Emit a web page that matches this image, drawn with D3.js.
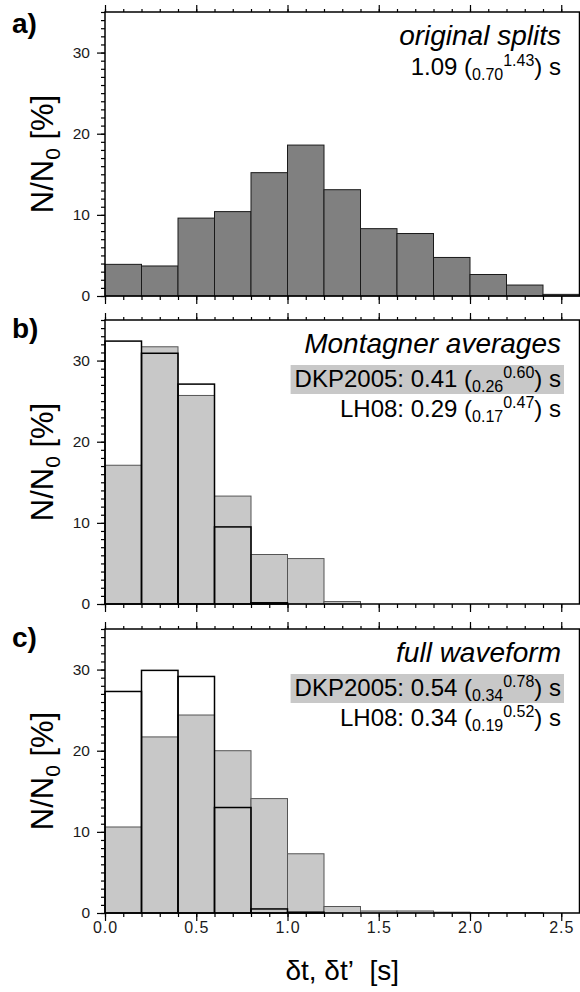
<!DOCTYPE html>
<html>
<head>
<meta charset="utf-8">
<script src="https://cdn.jsdelivr.net/npm/d3@7"></script>
<style>
  body { margin: 0; background: #fff; }
  svg { display: block; font-family: "Liberation Sans", Arial, sans-serif; }
  svg text { font-family: "Liberation Sans", Arial, sans-serif; }
</style>
</head>
<body>
<svg id="chart" width="580" height="992"></svg>
<script>
// histogram bins (start of each 0.2 s bin)
const binStarts = [0.0, 0.2, 0.4, 0.6, 0.8, 1.0, 1.2, 1.4, 1.6, 1.8, 2.0, 2.2, 2.4];
const binWidth = 0.2;

// a) original splits
const originalSplits = [3.9, 3.7, 9.6, 10.4, 15.2, 18.6, 13.1, 8.3, 7.7, 4.75, 2.65, 1.35, 0.2];
// b) Montagner averages
const montagnerDKP = [17.1, 31.7, 25.7, 13.3, 6.1, 5.6, 0.3, 0, 0, 0, 0, 0, 0];
const montagnerLH = [32.4, 30.9, 27.1, 9.5, 0.15, 0, 0, 0, 0, 0, 0, 0, 0];
// c) full waveform
const fullDKP = [10.6, 21.7, 24.4, 20.0, 14.1, 7.3, 0.8, 0.25, 0.25, 0.1, 0.05, 0.05, 0];
const fullLH = [27.3, 29.9, 29.15, 13.0, 0.5, 0.1, 0, 0, 0, 0, 0, 0, 0];

const xTickLabels = [0.0, 0.5, 1.0, 1.5, 2.0, 2.5];
const yTickLabels = [0, 10, 20, 30];
const panelLetters = ["a)", "b)", "c)"];
const panelTitles = ["original splits", "Montagner averages", "full waveform"];
const panelStats = [
  [{ label: "", mean: "1.09", lo: "0.70", hi: "1.43", boxed: false }],
  [{ label: "DKP2005: ", mean: "0.41", lo: "0.26", hi: "0.60", boxed: true },
   { label: "LH08: ", mean: "0.29", lo: "0.17", hi: "0.47", boxed: false }],
  [{ label: "DKP2005: ", mean: "0.54", lo: "0.34", hi: "0.78", boxed: true },
   { label: "LH08: ", mean: "0.34", lo: "0.19", hi: "0.52", boxed: false }]
];

const panels = [
  { filled: originalSplits, outline: null, fill: "#808080", stroke: "#1a1a1a" },
  { filled: montagnerDKP, outline: montagnerLH, fill: "#c8c8c8", stroke: "#555" },
  { filled: fullDKP, outline: fullLH, fill: "#c8c8c8", stroke: "#555" }
];

const svg = d3.select("#chart");
const panelTops = [12, 320, 629];
const panelH = 284;
const x = d3.scaleLinear().domain([0, 2.6]).range([105, 579.5]);

panels.forEach((p, i) => {
  const top = panelTops[i];
  const y = d3.scaleLinear().domain([0, 35]).range([top + panelH, top]);
  const g = svg.append("g");

  const bins = binStarts.map((b, j) => ({ x0: b, x1: b + binWidth, v: p.filled[j] }));
  g.append("g")
    .selectAll("rect")
    .data(bins.filter((d) => d.v > 0))
    .join("rect")
    .attr("x", (d) => x(d.x0))
    .attr("width", (d) => x(d.x1) - x(d.x0))
    .attr("y", (d) => y(d.v))
    .attr("height", (d) => y(0) - y(d.v))
    .attr("fill", p.fill)
    .attr("stroke", p.stroke)
    .attr("stroke-width", 1);

  if (p.outline) {
    const ob = binStarts.map((b, j) => ({ x0: b, x1: b + binWidth, v: p.outline[j] }));
    g.append("g")
      .selectAll("rect")
      .data(ob.filter((d) => d.v > 0))
      .join("rect")
      .attr("x", (d) => x(d.x0))
      .attr("width", (d) => x(d.x1) - x(d.x0))
      .attr("y", (d) => y(d.v))
      .attr("height", (d) => y(0) - y(d.v))
      .attr("fill", "none")
      .attr("stroke", "#000")
      .attr("stroke-width", 1.5);
  }

  // axes: minor + major ticks, outward
  const minorX = d3.range(0, 26).map((k) => k / 10);
  const axisStyle = (sel) => {
    sel.attr("font-family", null);
    sel.select(".domain").remove();
    sel.selectAll("line").attr("stroke", "#000").attr("stroke-width", 1.2);
    sel.selectAll("text").attr("fill", "#1a1a1a").style("font-size", "15.5px");
  };
  g.append("g").attr("transform", `translate(0,${top})`)
    .call(d3.axisTop(x).tickValues(minorX).tickSize(3).tickFormat(""))
    .call(axisStyle);
  g.append("g").attr("transform", `translate(0,${top})`)
    .call(d3.axisTop(x).tickValues(xTickLabels).tickSize(7).tickFormat(""))
    .call(axisStyle);
  g.append("g").attr("transform", `translate(0,${top + panelH})`)
    .call(d3.axisBottom(x).tickValues(minorX).tickSize(4).tickFormat(""))
    .call(axisStyle);
  g.append("g").attr("transform", `translate(0,${top + panelH})`)
    .call(d3.axisBottom(x).tickValues(xTickLabels).tickSize(8)
      .tickPadding(1)
      .tickFormat(i === 2 ? d3.format(".1f") : ""))
    .call(axisStyle)
    .call((a) => a.selectAll("text").style("font-size", "16px").style("letter-spacing", "1px"));

  g.append("g").attr("transform", `translate(105,0)`)
    .call(d3.axisLeft(y).tickValues(d3.range(0, 36)).tickSize(4).tickFormat(""))
    .call(axisStyle);
  g.append("g").attr("transform", `translate(105,0)`)
    .call(d3.axisLeft(y).tickValues(yTickLabels).tickSize(8).tickPadding(7))
    .call(axisStyle);

  // frame
  g.append("rect")
    .attr("x", x(0)).attr("y", top)
    .attr("width", x(2.6) - x(0)).attr("height", panelH)
    .attr("fill", "none").attr("stroke", "#000").attr("stroke-width", 1.5);

  // panel letter
  g.append("text")
    .attr("x", 12).attr("y", top + (i === 0 ? 21 : 18))
    .style("font-size", "28px").style("font-weight", "bold")
    .text(panelLetters[i]);

  // y label
  const yl = g.append("text")
    .attr("transform", `translate(53,${top + panelH / 2}) rotate(-90)`)
    .attr("text-anchor", "middle")
    .style("font-size", "31px");
  yl.append("tspan").text("N/N");
  yl.append("tspan").style("font-size", "21px").attr("dy", 7).text("0");
  yl.append("tspan").attr("dy", -7).text(" [%]");

  // annotations
  const ax = 561;
  g.append("text")
    .attr("x", ax).attr("y", top + 33)
    .attr("text-anchor", "end")
    .style("font-size", "28px").style("font-style", "italic")
    .text(panelTitles[i]);

  panelStats[i].forEach((s, k) => {
    const by = top + (i === 0 ? 63 : 67) + k * 30;
    const bg = g.append("g");
    const t = g.append("text")
      .attr("x", ax).attr("y", by)
      .attr("text-anchor", "end")
      .style("font-size", "24px");
    t.append("tspan").text(s.label + s.mean + " (");
    t.append("tspan").style("font-size", "16px").attr("dy", 5).text(s.lo);
    t.append("tspan").style("font-size", "16px").attr("dy", -14).text(s.hi);
    t.append("tspan").attr("dy", 9).text(") s");
    if (s.boxed) {
      const bb = t.node().getBBox();
      bg.append("rect")
        .attr("x", bb.x - 4).attr("y", by - 22)
        .attr("width", bb.width + 7).attr("height", 29)
        .attr("fill", "#c8c8c8");
    }
  });
});

// x axis title
svg.append("text")
  .attr("x", x(1.3)).attr("y", 980)
  .attr("text-anchor", "middle")
  .style("font-size", "28px")
  .text("\u03b4t, \u03b4t\u2019\u00a0 [s]");
</script>
</body>
</html>
